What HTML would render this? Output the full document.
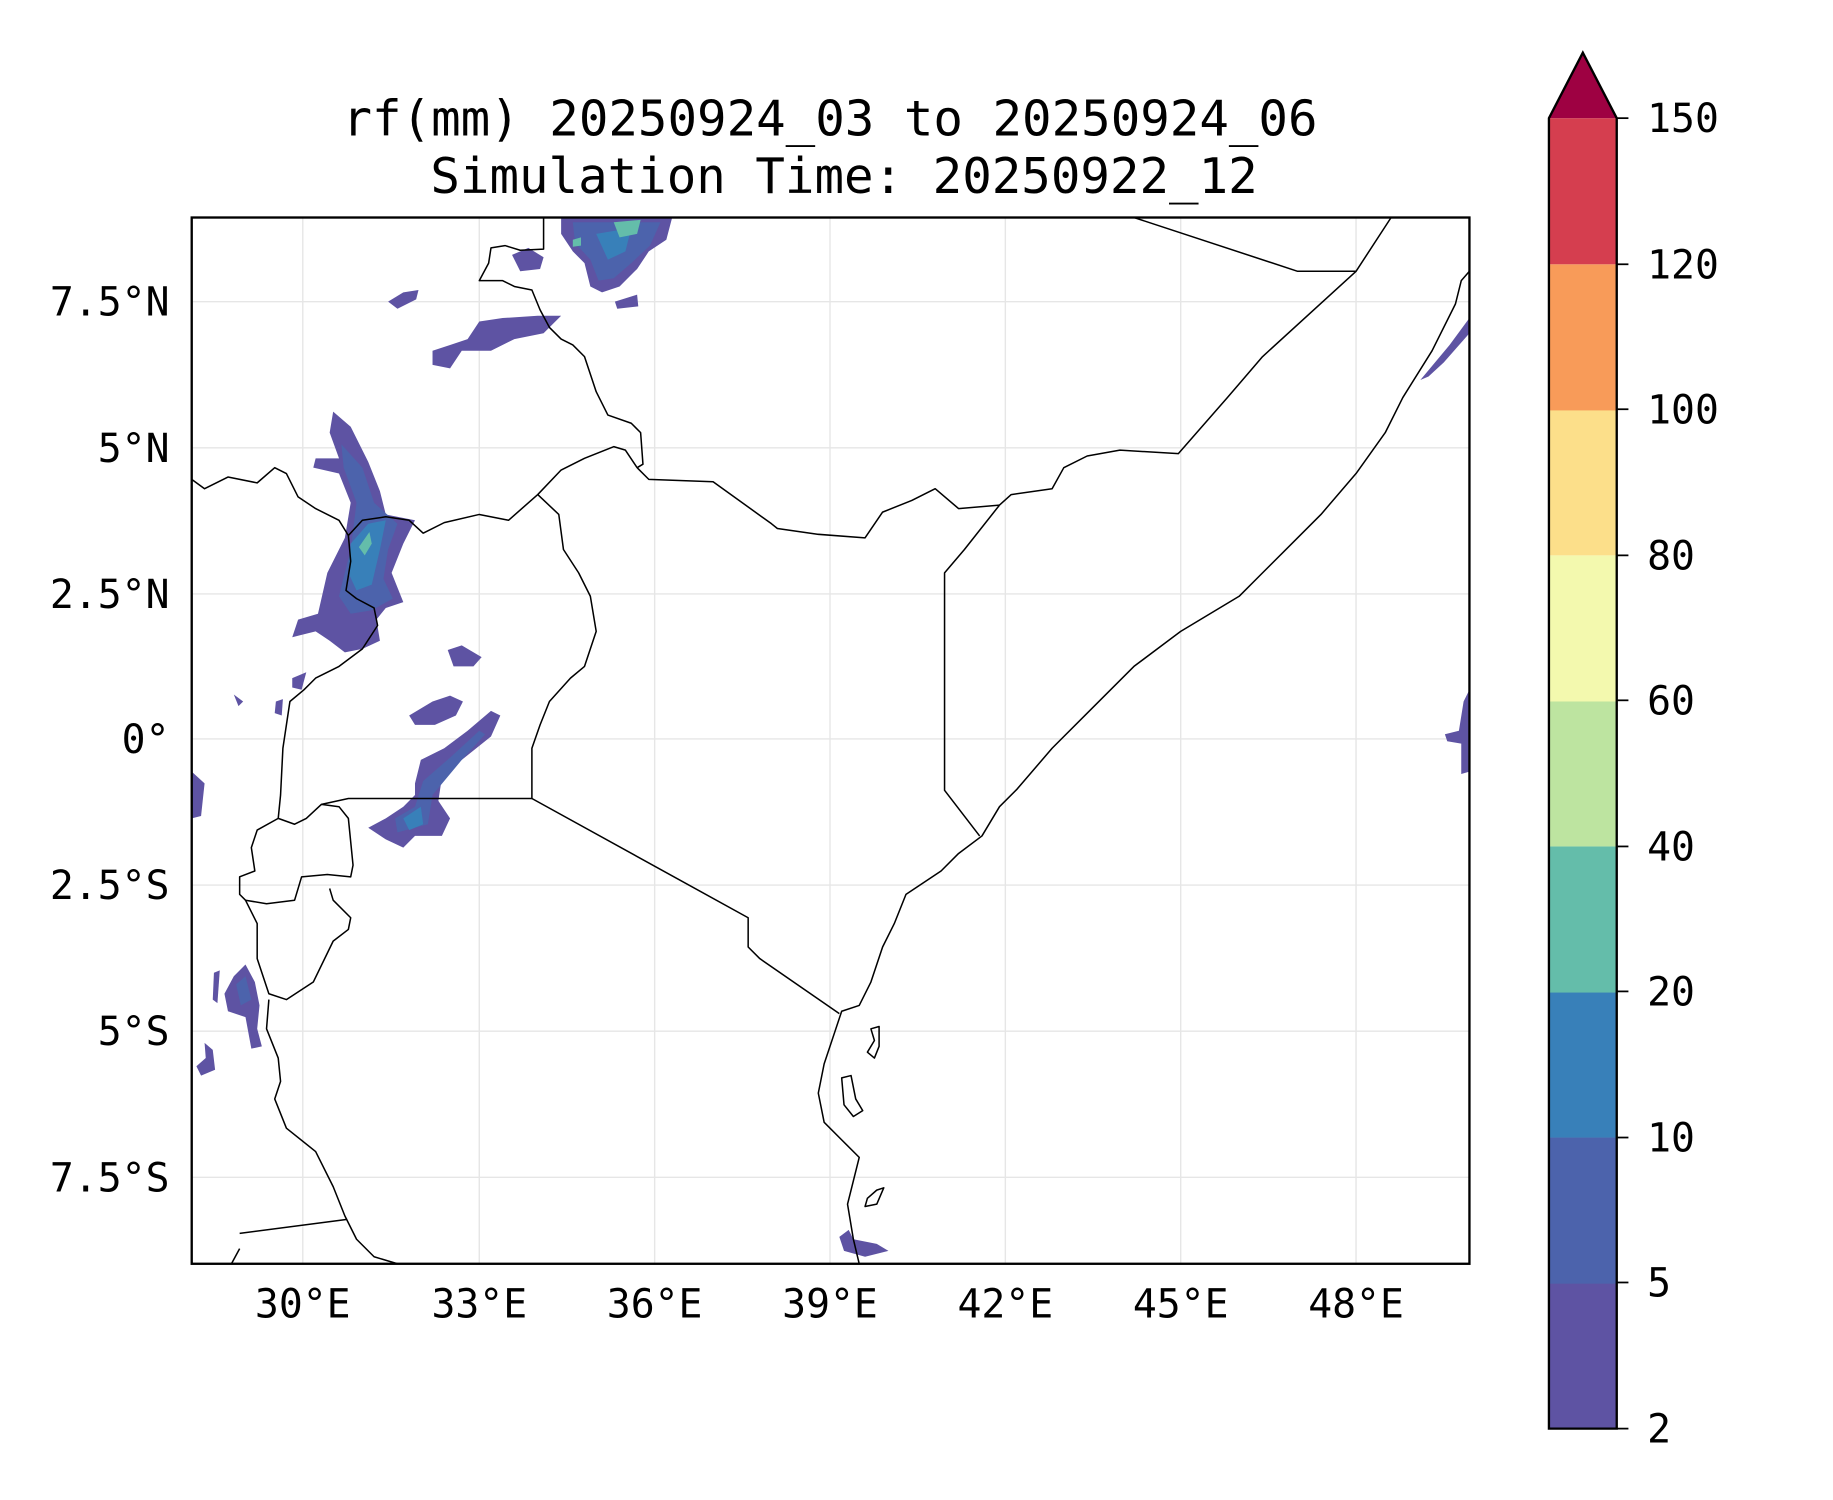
<!DOCTYPE html>
<html><head><meta charset="utf-8"><style>
html,body{margin:0;padding:0;background:#fff;}
svg{display:block;}
text{font-family:"DejaVu Sans Mono","Liberation Mono",monospace;fill:#000;}
</style></head><body>
<svg width="1833" height="1500" viewBox="0 0 1568 1283" xmlns="http://www.w3.org/2000/svg">
<rect width="1568" height="1283" fill="#fff"/>
<text x="710" y="116" font-size="42" text-anchor="middle">rf(mm) 20250924_03 to 20250924_06</text>
<text x="722" y="165" font-size="42" text-anchor="middle">Simulation Time: 20250922_12</text>
<!-- grid -->
<g stroke="#e6e6e6" stroke-width="1.2">
<line x1="259" y1="186" x2="259" y2="1081"/><line x1="410" y1="186" x2="410" y2="1081"/><line x1="560" y1="186" x2="560" y2="1081"/><line x1="710" y1="186" x2="710" y2="1081"/><line x1="860" y1="186" x2="860" y2="1081"/><line x1="1010" y1="186" x2="1010" y2="1081"/><line x1="1160" y1="186" x2="1160" y2="1081"/>
<line x1="164" y1="258" x2="1257" y2="258"/><line x1="164" y1="383" x2="1257" y2="383"/><line x1="164" y1="508" x2="1257" y2="508"/><line x1="164" y1="632" x2="1257" y2="632"/><line x1="164" y1="757" x2="1257" y2="757"/><line x1="164" y1="882" x2="1257" y2="882"/><line x1="164" y1="1007" x2="1257" y2="1007"/>
</g>
<!-- precip -->
<g fill="#5e53a3">
<path d="M480,186 L575,186 570,205 555,215 545,230 530,245 515,250 505,245 500,225 490,215 480,200Z"/>
<path d="M438,218 L452,212 465,220 462,230 445,232Z"/>
<path d="M370,300 L385,295 400,290 410,275 430,272 460,270 480,270 465,285 440,290 420,300 395,300 385,315 370,312Z"/>
<path d="M332,258 L345,250 358,248 356,256 340,264Z"/>
<path d="M526,258 L545,252 546,262 528,264Z"/>
<path d="M285,352 L300,365 315,395 325,420 330,440 355,445 345,465 335,490 345,515 330,520 322,530 325,548 310,555 295,558 282,548 270,540 250,545 255,530 272,525 280,490 295,460 300,430 290,405 268,400 270,392 290,392 282,370Z"/>
<path d="M383,556 L395,552 412,562 405,570 388,570Z"/>
<path d="M350,612 L370,600 385,595 396,600 390,612 372,620 355,620Z"/>
<path d="M355,670 L360,650 380,640 400,625 420,608 428,612 420,630 395,650 378,665 375,685 385,700 378,715 355,715 345,725 330,718 315,708 330,700 345,690 355,680Z"/>
<path d="M200,835 L210,825 218,840 222,860 220,880 224,895 215,897 210,870 195,865 192,850Z"/>
<path d="M175,892 L182,898 184,915 172,920 168,912 176,905Z"/>
<path d="M183,832 L188,830 186,858 182,855Z"/>
<path d="M1215,325 L1240,295 1257,272 1257,285 1235,310 1222,322Z"/>
<path d="M1236,628 L1248,625 1252,600 1257,590 1257,660 1250,662 1250,636 1238,634Z"/>
<path d="M718,1058 L726,1052 730,1060 750,1064 760,1070 740,1075 722,1070Z"/>
<path d="M250,580 L262,575 258,590 250,588Z"/><path d="M200,594 L208,600 204,604Z"/><path d="M236,600 L242,598 241,612 235,610Z"/>
<path d="M164,660 L175,670 172,698 164,700Z"/>
</g>
<g fill="#4c63ac">
<path d="M490,190 L565,190 556,210 540,225 525,238 512,240 505,222 492,208Z"/>
<path d="M292,380 L310,400 320,430 340,448 332,470 328,495 336,512 318,522 300,525 290,510 300,470 305,430 294,400Z"/>
<path d="M362,668 L385,648 410,625 415,628 395,650 370,680 366,705 340,712 338,700 355,690Z"/>
<path d="M202,842 L210,835 215,855 206,860Z"/>
</g>
<g fill="#3880b9">
<path d="M300,465 L315,448 330,445 325,470 318,500 305,505 298,490Z"/>
<path d="M510,200 L540,195 535,215 520,222Z"/>
<path d="M345,700 L360,690 362,705 350,710Z"/>
</g>
<g fill="#64bdaa">
<path d="M307,468 L316,455 318,465 312,475Z"/>
<path d="M525,190 L548,188 545,200 530,203Z"/>
<path d="M490,205 L497,203 497,210 490,211Z"/>
</g>
<!-- borders / coast -->
<g fill="none" stroke="#000" stroke-width="1.3" stroke-linejoin="round">
<polyline points="1257,232 1250,240 1245,260 1225,300 1200,340 1185,370 1160,405 1130,440 1080,490 1060,510 1010,540 970,570 930,610 900,640 870,675 855,690 840,715 820,730 805,745 775,765 765,790 755,810 745,840 735,860 720,865 715,880 705,910 700,935 705,960 720,975 735,990 730,1010 725,1030 730,1060 735,1081"/>
<polyline points="838,715 808,676 808,490 825,470 855,432"/>
<polyline points="855,432 865,423 900,418 910,400 930,390 958,385 1008,388 1050,340 1080,305 1160,232 1190,186"/>
<polyline points="1160,232 1110,232 970,186"/>
<polyline points="855,432 820,435 800,418 780,428 755,438 740,460 700,457 665,452 660,448 610,412 555,410 545,400"/>
<polyline points="545,400 550,397 548,370 540,362 520,355 510,335 500,305 490,295 480,290 470,280 462,265 455,248 440,245 430,240 410,240 418,225 420,212 432,210 445,214 465,213 465,186"/>
<polyline points="545,400 535,385 525,382 500,392 480,402 460,423 435,445 410,440 380,447 362,456 350,445 330,442 310,445 298,458"/>
<polyline points="164,410 175,418 195,408 220,413 235,400 245,405 255,425 270,435 290,445 298,458"/>
<polyline points="460,423 478,440 482,470 495,490 505,510 510,540 500,570 488,580 470,600 462,620 455,640 455,683"/>
<polyline points="455,683 298,683 275,688"/>
<polyline points="455,683 640,785 640,810 650,820 718,867"/>
<polyline points="298,458 300,480 296,505 305,512 320,520 323,535 310,555 290,570 270,580 260,590 248,600 242,640 240,680 238,700"/>
<polyline points="238,700 220,710 215,725 218,745 205,750 205,765 210,770 228,773 252,770 258,750 280,748 300,750 302,740 298,700 290,690 275,688 262,700 252,705 238,700"/>
<polyline points="210,770 220,790 220,820 230,850 245,855 268,840 285,805 298,795 300,785 285,770 282,760"/>
<polyline points="230,855 228,880 238,905 240,925 235,940 245,965 270,985 285,1015 295,1040 305,1060 320,1075 340,1081"/>
<polyline points="205,1055 297,1043"/>
<polyline points="205,1068 198,1081"/>
<path d="M745,880 L752,878 752,895 748,905 742,900 748,890Z"/>
<path d="M720,922 L728,920 732,940 738,950 730,955 722,945Z"/>
<path d="M742,1025 L750,1018 756,1016 750,1030 740,1032Z"/>
</g>
<rect x="164" y="186" width="1093" height="895" fill="none" stroke="#000" stroke-width="2"/>
<!-- axis tick labels -->
<g font-size="34" text-anchor="middle">
<text x="259" y="1127">30°E</text><text x="410" y="1127">33°E</text><text x="560" y="1127">36°E</text><text x="710" y="1127">39°E</text><text x="860" y="1127">42°E</text><text x="1010" y="1127">45°E</text><text x="1160" y="1127">48°E</text>
</g>
<g font-size="34" text-anchor="end">
<text x="145" y="270">7.5°N</text><text x="145" y="395">5°N</text><text x="145" y="520">2.5°N</text><text x="145" y="644">0°</text><text x="145" y="769">2.5°S</text><text x="145" y="894">5°S</text><text x="145" y="1019">7.5°S</text>
</g>
<!-- colorbar -->
<g>
<rect x="1325" y="1097" width="58" height="125" fill="#5e53a3"/>
<rect x="1325" y="973" width="58" height="125" fill="#4c63ac"/>
<rect x="1325" y="848" width="58" height="125" fill="#3880b9"/>
<rect x="1325" y="724" width="58" height="125" fill="#64bdaa"/>
<rect x="1325" y="599" width="58" height="125" fill="#bde4a0"/>
<rect x="1325" y="475" width="58" height="125" fill="#f3f9ae"/>
<rect x="1325" y="350" width="58" height="125" fill="#fcdf8a"/>
<rect x="1325" y="226" width="58" height="125" fill="#f89b59"/>
<rect x="1325" y="101" width="58" height="125" fill="#d53e4f"/>
<path d="M1325,101 L1354,45 1383,101Z" fill="#9e0142"/>
<path d="M1325,1222 L1325,101 1354,45 1383,101 1383,1222Z" fill="none" stroke="#000" stroke-width="2"/>
<g stroke="#000" stroke-width="1.5">
<line x1="1383" y1="101" x2="1393" y2="101"/><line x1="1383" y1="226" x2="1393" y2="226"/><line x1="1383" y1="350" x2="1393" y2="350"/><line x1="1383" y1="475" x2="1393" y2="475"/><line x1="1383" y1="599" x2="1393" y2="599"/><line x1="1383" y1="724" x2="1393" y2="724"/><line x1="1383" y1="848" x2="1393" y2="848"/><line x1="1383" y1="973" x2="1393" y2="973"/><line x1="1383" y1="1097" x2="1393" y2="1097"/><line x1="1383" y1="1222" x2="1393" y2="1222"/>
</g>
<g font-size="34">
<text x="1409" y="113">150</text><text x="1409" y="238">120</text><text x="1409" y="362">100</text><text x="1409" y="487">80</text><text x="1409" y="611">60</text><text x="1409" y="736">40</text><text x="1409" y="860">20</text><text x="1409" y="985">10</text><text x="1409" y="1109">5</text><text x="1409" y="1234">2</text>
</g>
</g>
</svg>
</body></html>
